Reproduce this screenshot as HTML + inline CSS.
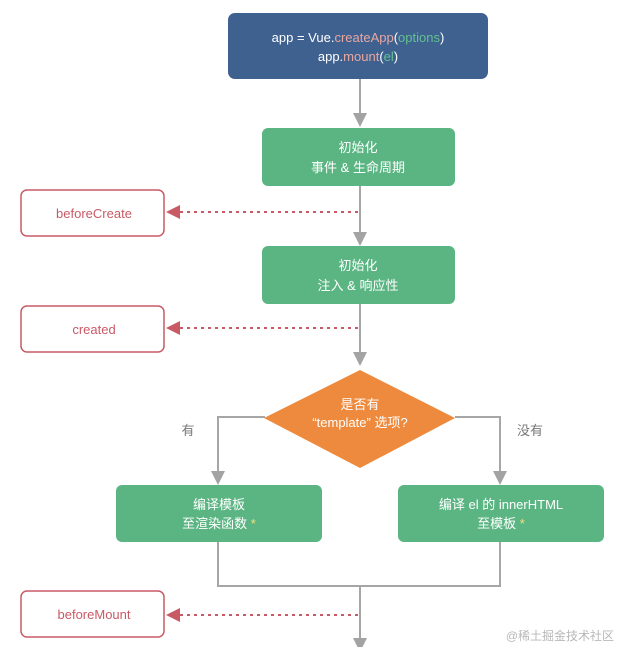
<!DOCTYPE html>
<html><head><meta charset="utf-8"><style>
html,body{margin:0;padding:0;background:#fff;}
svg text{font-family:"Liberation Sans","Noto Sans CJK SC",sans-serif;}
</style></head><body>
<svg width="619" height="647" viewBox="0 0 619 647" xmlns="http://www.w3.org/2000/svg">
<defs>
<marker id="ga" markerWidth="10" markerHeight="10" refX="5" refY="9" orient="auto" markerUnits="userSpaceOnUse"><path d="M0,0 L10,0 L5,10 z" fill="#a3a3a3" transform="rotate(0)"/></marker>
</defs>
<g stroke="#a6a6a6" stroke-width="2" fill="none">
<line x1="360" y1="79" x2="360" y2="116"/>
<line x1="360" y1="186" x2="360" y2="234"/>
<line x1="360" y1="304" x2="360" y2="354"/>
<polyline points="265,417 218,417 218,472"/>
<polyline points="455,417 500,417 500,472"/>
<polyline points="218,542 218,586 500,586 500,542"/>
<line x1="360" y1="586" x2="360" y2="640"/>
</g>
<g fill="#a3a3a3">
<path d="M353,113 L367,113 L360,127 z"/>
<path d="M353,232 L367,232 L360,246 z"/>
<path d="M353,352 L367,352 L360,366 z"/>
<path d="M211,471 L225,471 L218,485 z"/>
<path d="M493,471 L507,471 L500,485 z"/>
<path d="M353,638 L367,638 L360,652 z"/>
</g>
<g stroke="#c85a66" stroke-width="2" stroke-dasharray="3,4" fill="none">
<line x1="358" y1="212" x2="178" y2="212"/>
<line x1="358" y1="328" x2="178" y2="328"/>
<line x1="358" y1="615" x2="178" y2="615"/>
</g>
<g fill="#c85a66">
<path d="M166,212 L180,205 L180,219 z"/>
<path d="M166,328 L180,321 L180,335 z"/>
<path d="M166,615 L180,608 L180,622 z"/>
</g>
<rect x="228" y="13" width="260" height="66" rx="7" fill="#3f6190"/>
<text x="358" y="42" font-size="13" fill="#fff" text-anchor="middle">app = Vue.<tspan fill="#e8a7a0">createApp</tspan>(<tspan fill="#63c08f">options</tspan>)</text>
<text x="358" y="61" font-size="13" fill="#fff" text-anchor="middle">app.<tspan fill="#e8a7a0">mount</tspan>(<tspan fill="#63c08f">el</tspan>)</text>
<rect x="262" y="128" width="193" height="58" rx="6" fill="#5bb583"/>
<text x="358" y="152" font-size="13" fill="#fff" text-anchor="middle">初始化</text>
<text x="358" y="172" font-size="13" fill="#fff" text-anchor="middle">事件 &amp; 生命周期</text>
<rect x="262" y="246" width="193" height="58" rx="6" fill="#5bb583"/>
<text x="358" y="270" font-size="13" fill="#fff" text-anchor="middle">初始化</text>
<text x="358" y="290" font-size="13" fill="#fff" text-anchor="middle">注入 &amp; 响应性</text>
<rect x="21" y="190" width="143" height="46" rx="6" fill="#fff" stroke="#c85a66" stroke-width="1.5"/>
<text x="94" y="218" font-size="13" fill="#c85a66" text-anchor="middle">beforeCreate</text>
<rect x="21" y="306" width="143" height="46" rx="6" fill="#fff" stroke="#c85a66" stroke-width="1.5"/>
<text x="94" y="334" font-size="13" fill="#c85a66" text-anchor="middle">created</text>
<rect x="21" y="591" width="143" height="46" rx="6" fill="#fff" stroke="#c85a66" stroke-width="1.5"/>
<text x="94" y="619" font-size="13" fill="#c85a66" text-anchor="middle">beforeMount</text>
<path d="M360,370 L455,418 L360,468 L264,418 z" fill="#ee8a3d"/>
<text x="360" y="409" font-size="13" fill="#fff" text-anchor="middle">是否有</text>
<text x="360" y="427" font-size="13" fill="#fff" text-anchor="middle">“template” 选项?</text>
<text x="188" y="435" font-size="13" fill="#777" text-anchor="middle">有</text>
<text x="530" y="435" font-size="13" fill="#777" text-anchor="middle">没有</text>
<rect x="116" y="485" width="206" height="57" rx="6" fill="#5bb583"/>
<text x="219" y="509" font-size="13" fill="#fff" text-anchor="middle">编译模板</text>
<text x="219" y="528" font-size="13" fill="#fff" text-anchor="middle">至渲染函数 <tspan fill="#f3e07a">*</tspan></text>
<rect x="398" y="485" width="206" height="57" rx="6" fill="#5bb583"/>
<text x="501" y="509" font-size="13" fill="#fff" text-anchor="middle">编译 el 的 innerHTML</text>
<text x="501" y="528" font-size="13" fill="#fff" text-anchor="middle">至模板 <tspan fill="#f3e07a">*</tspan></text>
<text x="614" y="640" font-size="12" fill="#b8b8b8" text-anchor="end">@稀土掘金技术社区</text>
</svg>
</body></html>
